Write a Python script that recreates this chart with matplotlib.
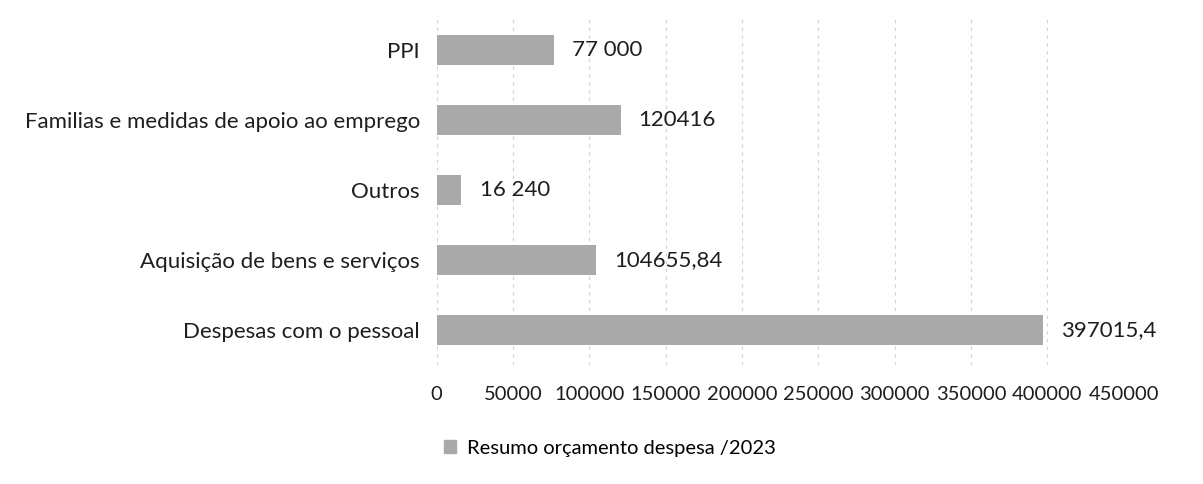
import matplotlib.pyplot as plt
from matplotlib.patches import Patch

# categories (bottom to top as drawn)
categories = ['Despesas com o pessoal', 'Aquisição de bens e serviços', 'Outros',
              'Familias e medidas de apoio ao emprego', 'PPI']
values = [397015.4, 104655.84, 16240, 120416, 77000]
value_labels = ['397015,4', '104655,84', '16 240', '120416', '77 000']
ticks = [0, 50000, 100000, 150000, 200000, 250000, 300000, 350000, 400000, 450000]
legend_label = 'Resumo orçamento despesa /2023'

plt.rcParams['font.family'] = ['Lato', 'DejaVu Sans']

fig = plt.figure(figsize=(12.03, 4.84), dpi=100)
ax = fig.add_axes([0.363, 0.246, 0.571, 0.723])

bar_color = '#a9a9a9'
txt = '#1e1e1e'
ax.barh(range(len(categories)), values, height=0.42, color=bar_color, zorder=2)

for i, (v, lab) in enumerate(zip(values, value_labels)):
    ax.annotate(lab, (v, i), xytext=(13, 0), textcoords='offset points',
                va='center', ha='left', fontsize=16, color=txt)

ax.set_xlim(0, 450000)
ax.set_ylim(-0.5, len(categories) - 0.5)
ax.set_xticks(ticks)
ax.set_xticklabels([str(t) for t in ticks], fontsize=14.5, color=txt)
ax.set_yticks(range(len(categories)))
ax.set_yticklabels(categories, fontsize=16, color=txt)
ax.tick_params(axis='x', length=0, pad=15)
ax.tick_params(axis='y', length=0, pad=12)

ax.grid(True, axis='x', color='#d2d2d2', linestyle=(0, (3, 4)), linewidth=0.8, zorder=0)
for s in ax.spines.values():
    s.set_visible(False)

fig.legend(handles=[Patch(color=bar_color)], labels=[legend_label],
           loc='center', bbox_to_anchor=(0.507, 0.074), frameon=False,
           fontsize=14.5, handlelength=0.6, handleheight=0.6, handletextpad=0.5)

plt.savefig('out.png', dpi=100)
